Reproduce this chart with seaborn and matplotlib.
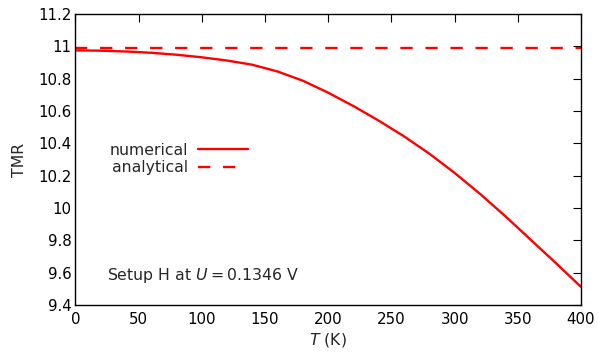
import matplotlib
matplotlib.use("Agg")
import matplotlib.pyplot as plt
import seaborn as sns
import pandas as pd
import numpy as np

# Data
temperature = [0, 20, 40, 60, 80, 100, 120, 140, 160, 180, 200,
               220, 240, 260, 280, 300, 320, 340, 360, 380, 400]
tmr_numerical = [10.975, 10.973, 10.968, 10.960, 10.948, 10.932, 10.912,
                 10.886, 10.844, 10.787, 10.713, 10.630, 10.540, 10.443,
                 10.336, 10.217, 10.088, 9.950, 9.805, 9.660, 9.512]
tmr_analytical_value = 10.99
analytical_T = [0, 400]
tmr_analytical = [tmr_analytical_value, tmr_analytical_value]

x_ticks = [0, 50, 100, 150, 200, 250, 300, 350, 400]
y_ticks = [9.4, 9.6, 9.8, 10, 10.2, 10.4, 10.6, 10.8, 11, 11.2]
y_tick_labels = ["9.4", "9.6", "9.8", "10", "10.2", "10.4", "10.6", "10.8", "11", "11.2"]

sns.set_style("white")
plt.rcParams['font.family'] = ['DejaVu Sans']

FS = 11.3

fig = plt.figure(figsize=(5.98, 3.54), dpi=100)
ax = fig.add_axes([0.1262, 0.1384, 0.8454, 0.8221])

df_num = pd.DataFrame({"T": temperature, "TMR": tmr_numerical})
df_ana = pd.DataFrame({"T": analytical_T, "TMR": tmr_analytical})

sns.lineplot(data=df_num, x="T", y="TMR", ax=ax, color="#ff0000",
             linewidth=1.7, label="numerical")
sns.lineplot(data=df_ana, x="T", y="TMR", ax=ax, color="#ff0000",
             linewidth=1.7, label="analytical", dashes=False)
ax.lines[1].set_dashes((5.2, 5.4))

ax.set_xlim(0, 400)
ax.set_ylim(9.4, 11.2)
ax.set_xticks(x_ticks)
ax.set_yticks(y_ticks)
ax.set_yticklabels(y_tick_labels)
ax.tick_params(direction="in", length=6, width=0.8, top=True, right=True,
               labelsize=10.8, colors="black")
ax.tick_params(axis="x", pad=5)
ax.tick_params(axis="y", pad=3)
for s in ax.spines.values():
    s.set_visible(True)
    s.set_color("black")
    s.set_linewidth(1.0)

ax.set_xlabel("$T$ (K)", fontsize=FS, labelpad=3)
ax.set_ylabel("TMR", fontsize=FS, labelpad=8)

leg = ax.legend(loc="upper left", bbox_to_anchor=(0.043, 0.6), frameon=False,
                markerfirst=False, fontsize=FS, handlelength=3.2,
                handletextpad=0.6, labelspacing=0.15, borderpad=0.3)
for line in leg.get_lines():
    line.set_linewidth(1.7)

ax.text(0.062, 0.1, "Setup H at $U = 0.1346$ V", transform=ax.transAxes,
        fontsize=FS, ha="left", va="center")

fig.savefig("out.png", dpi=100)
